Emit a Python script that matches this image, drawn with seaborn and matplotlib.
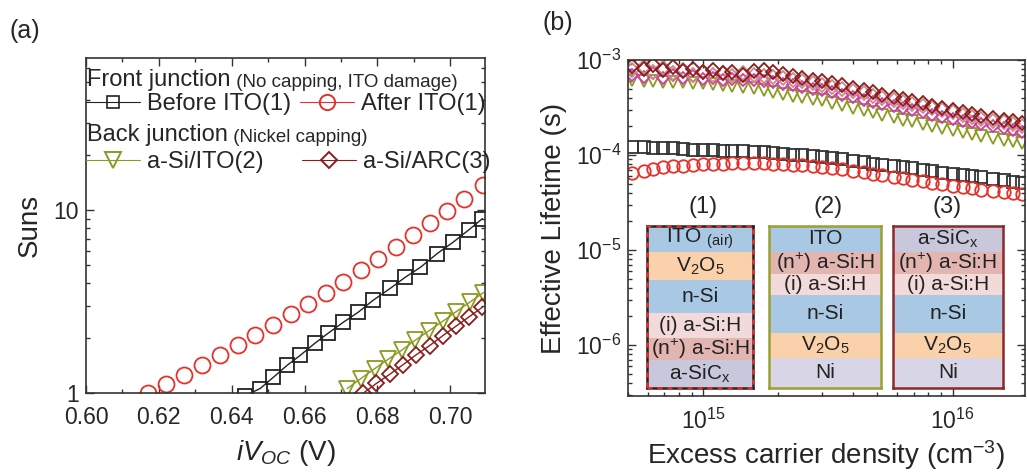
import numpy as np
import pandas as pd
import seaborn as sns
import matplotlib.pyplot as plt
from matplotlib.lines import Line2D
from matplotlib.patches import Rectangle
from matplotlib.ticker import LogLocator, MultipleLocator, NullFormatter

# ---- panel (a): Suns-Voc data ----
before_x = [0.6437, 0.6478, 0.6514, 0.6552, 0.6588, 0.6629, 0.6665, 0.6706, 0.6747,
            0.6788, 0.6835, 0.6876, 0.6918, 0.6964, 0.7008, 0.7050, 0.7088]
before_y = [0.97, 1.06, 1.22, 1.42, 1.61, 1.88, 2.13, 2.44, 2.77,
            3.22, 3.74, 4.30, 4.88, 5.80, 6.70, 7.80, 9.00]

after_x = [0.6170, 0.6220, 0.6268, 0.6318, 0.6367, 0.6416, 0.6465, 0.6513, 0.6562, 0.6610,
           0.6658, 0.6706, 0.6754, 0.6802, 0.6850, 0.6897, 0.6944, 0.6991, 0.7038, 0.7090]
after_y = [1.00, 1.12, 1.26, 1.42, 1.61, 1.83, 2.08, 2.36, 2.70, 3.09,
           3.54, 4.08, 4.70, 5.44, 6.31, 7.31, 8.50, 9.91, 11.6, 13.8]

ito2_x = [0.6717, 0.6754, 0.6792, 0.6829, 0.6867, 0.6904, 0.6941, 0.6979, 0.7016, 0.7054, 0.7091]
ito2_y = [1.06, 1.20, 1.36, 1.53, 1.72, 1.95, 2.19, 2.47, 2.79, 3.15, 3.55]

arc3_x = [0.6761, 0.6797, 0.6834, 0.6870, 0.6906, 0.6943, 0.6979, 0.7015, 0.7052, 0.7088]
arc3_y = [1.00, 1.13, 1.27, 1.43, 1.62, 1.82, 2.06, 2.32, 2.62, 2.95]

volt_ticks = [0.60, 0.62, 0.64, 0.66, 0.68, 0.70]
volt_labels = ["0.60", "0.62", "0.64", "0.66", "0.68", "0.70"]
suns_ticks = [1, 10]
suns_labels = ["1", "10"]

# ---- panel (b): lifetime data ----
dens = [5.2e14, 5.8e14, 6.3e14, 6.9e14, 7.6e14, 8.3e14, 9.1e14, 1.0e15, 1.1e15, 1.2e15,
        1.3e15, 1.45e15, 1.6e15, 1.75e15, 1.9e15, 2.1e15, 2.3e15, 2.5e15, 2.75e15, 3.0e15,
        3.3e15, 3.6e15, 4.0e15, 4.4e15, 4.8e15, 5.2e15, 5.8e15, 6.3e15, 6.9e15, 7.6e15,
        8.3e15, 9.1e15, 1.0e16, 1.1e16, 1.2e16, 1.3e16, 1.45e16, 1.6e16, 1.75e16, 1.9e16]
tau_before = [1.21, 1.20, 1.19, 1.18, 1.17, 1.16, 1.14, 1.13, 1.12, 1.11,
              1.10, 1.09, 1.08, 1.07, 1.05, 1.03, 1.01, 0.99, 0.97, 0.95,
              0.92, 0.90, 0.87, 0.84, 0.81, 0.79, 0.76, 0.74, 0.72, 0.69,
              0.67, 0.65, 0.63, 0.615, 0.60, 0.58, 0.56, 0.54, 0.52, 0.505]  # x1e-4
tau_after = [6.5, 6.8, 7.1, 7.4, 7.6, 7.7, 7.85, 7.95, 8.05, 8.1,
             8.15, 8.2, 8.2, 8.15, 8.1, 8.0, 7.9, 7.75, 7.6, 7.45,
             7.25, 7.05, 6.8, 6.6, 6.35, 6.15, 5.9, 5.75, 5.5, 5.3,
             5.1, 4.9, 4.75, 4.6, 4.45, 4.3, 4.15, 4.05, 3.95, 3.85]  # x1e-5
tau_ito2 = [6.1, 6.0, 5.95, 5.9, 5.85, 5.8, 5.75, 5.65, 5.55, 5.45,
            5.35, 5.2, 5.05, 4.85, 4.65, 4.4, 4.2, 4.05, 3.9, 3.75,
            3.55, 3.35, 3.15, 2.95, 2.8, 2.65, 2.5, 2.35, 2.25, 2.1,
            2.0, 1.9, 1.82, 1.75, 1.67, 1.6, 1.52, 1.45, 1.4, 1.35]  # x1e-4
tau_arc3 = [8.6, 8.0, 8.8, 7.9, 8.4, 7.6, 8.1, 7.4, 7.8, 7.2,
            7.5, 7.0, 7.6, 7.8, 7.4, 7.1, 6.8, 6.5, 6.2, 6.0,
            5.7, 5.4, 5.1, 4.8, 4.55, 4.3, 4.1, 3.9, 3.7, 3.5,
            3.3, 3.15, 3.0, 2.85, 2.7, 2.55, 2.45, 2.35, 2.25, 2.15]  # x1e-4
tau_arc3b = [7.8, 8.5, 7.4, 8.2, 7.3, 7.9, 7.0, 7.5, 6.9, 7.3,
             6.8, 7.2, 6.9, 6.8, 6.6, 6.4, 6.2, 5.95, 5.7, 5.45,
             5.2, 4.95, 4.7, 4.45, 4.2, 4.0, 3.8, 3.6, 3.4, 3.25,
             3.1, 2.95, 2.8, 2.65, 2.5, 2.4, 2.3, 2.2, 2.1, 2.0]  # x1e-4
tau_mag = [7.0, 6.6, 7.2, 6.5, 6.9, 6.4, 6.7, 6.3, 6.5, 6.2,
           6.3, 6.1, 6.1, 6.0, 5.8, 5.6, 5.4, 5.2, 5.0, 4.8,
           4.55, 4.3, 4.05, 3.8, 3.6, 3.4, 3.25, 3.1, 2.95, 2.8,
           2.65, 2.5, 2.4, 2.3, 2.2, 2.1, 2.0, 1.9, 1.82, 1.75]  # x1e-4

# ---- layer stacks drawn inside panel (b) ----
stack_titles = ["(1)", "(2)", "(3)"]
stack1 = ["ITO $_{(air)}$", "V$_2$O$_5$", "n-Si", "(i) a-Si:H", "(n$^{+}$) a-Si:H", "a-SiC$_x$"]
stack2 = ["ITO", "(n$^{+}$) a-Si:H", "(i) a-Si:H", "n-Si", "V$_2$O$_5$", "Ni"]
stack3 = ["a-SiC$_x$", "(n$^{+}$) a-Si:H", "(i) a-Si:H", "n-Si", "V$_2$O$_5$", "Ni"]
c_blue, c_orange, c_pink, c_rose, c_lav, c_ni = "#a9c8e4", "#fbd1ab", "#f3dada", "#e3b5b1", "#c9c7dc", "#d8d6e6"
stack1_colors = [c_blue, c_orange, c_blue, c_pink, c_rose, c_lav]
stack2_colors = [c_blue, c_rose, c_pink, c_blue, c_orange, c_ni]
stack3_colors = [c_lav, c_rose, c_pink, c_blue, c_orange, c_ni]

# ---- style ----
sns.set_theme(style="ticks")
plt.rcParams["font.family"] = ["Liberation Sans", "DejaVu Sans"]
plt.rcParams["mathtext.fontset"] = "custom"
plt.rcParams["mathtext.rm"] = "Liberation Sans"
plt.rcParams["mathtext.it"] = "Liberation Sans:italic"
plt.rcParams["mathtext.default"] = "regular"
plt.rcParams["axes.edgecolor"] = "#333333"
plt.rcParams["axes.linewidth"] = 1.2

RED, BLACK, OLIVE, DRED = "#e8302a", "#222222", "#8c9a22", "#8b1c1c"

fig = plt.figure(figsize=(10.27, 4.72), dpi=100)
ax_a = fig.add_axes([0.0837, 0.167, 0.3885, 0.710])
ax_b = fig.add_axes([0.6115, 0.161, 0.3865, 0.712])


def style_ticks(ax):
    ax.tick_params(which="both", direction="in", top=True, right=True, color="#333333", width=1)
    ax.tick_params(which="major", length=6, labelsize=16.5)
    ax.tick_params(axis="x", which="major", pad=9)
    ax.tick_params(axis="y", which="major", pad=5)
    ax.tick_params(which="minor", length=3)


def series(ax, x, y, color, marker, ms, ls="-"):
    sns.lineplot(x=x, y=y, ax=ax, color=color, marker=marker, ms=ms, mfc="none", mec=color,
                 mew=1.3, lw=1.0, ls=ls, estimator=None, sort=False, legend=False)


# panel (a)
ax_a.set_yscale("log")
series(ax_a, before_x, before_y, BLACK, "s", 10)
series(ax_a, after_x, after_y, RED, "o", 11.5, ls="none")
series(ax_a, ito2_x, ito2_y, OLIVE, "v", 11)
series(ax_a, arc3_x, arc3_y, DRED, "D", 8.5)
ax_a.set_xlim(0.60, 0.7095)
ax_a.set_ylim(1, 68)
ax_a.set_xticks(volt_ticks, labels=volt_labels)
ax_a.xaxis.set_minor_locator(MultipleLocator(0.01))
ax_a.set_yticks(suns_ticks, labels=suns_labels)
ax_a.yaxis.set_minor_locator(LogLocator(base=10, subs=np.arange(2, 10)))
ax_a.yaxis.set_minor_formatter(NullFormatter())
style_ticks(ax_a)
ax_a.set_xlabel("$\\mathit{iV_{OC}}$ (V)", fontsize=20, labelpad=7)
ax_a.set_ylabel("Suns", fontsize=20, labelpad=8)

t1 = ax_a.text(0.003, 0.934, "Front junction", transform=ax_a.transAxes, fontsize=17,
               ha="left", va="center")
ax_a.annotate(" (No capping, ITO damage)", xy=(1, 0), xycoords=t1, fontsize=13.5,
              ha="left", va="bottom")
t3 = ax_a.text(0.003, 0.770, "Back junction", transform=ax_a.transAxes, fontsize=17,
               ha="left", va="center")
ax_a.annotate(" (Nickel capping)", xy=(1, 0), xycoords=t3, fontsize=13.5,
              ha="left", va="bottom")

h_before = Line2D([], [], color=BLACK, marker="s", ms=9, mfc="none", mew=1.2, lw=0.8)
h_after = Line2D([], [], color=RED, marker="o", ms=11, mfc="none", mew=1.4, lw=0.8)
h_ito2 = Line2D([], [], color=OLIVE, marker="v", ms=11, mfc="none", mew=1.4, lw=0.8)
h_arc3 = Line2D([], [], color=DRED, marker="D", ms=8.5, mfc="none", mew=1.4, lw=0.8)
leg1 = ax_a.legend([h_before, h_after], ["Before ITO(1)", "After ITO(1)"], ncol=2,
                   loc="center left", bbox_to_anchor=(0.0, 0.862), frameon=False, fontsize=17,
                   handlelength=2.3, handletextpad=0.3, columnspacing=0.35,
                   borderpad=0, borderaxespad=0)
ax_a.add_artist(leg1)
ax_a.legend([h_ito2, h_arc3], ["a-Si/ITO(2)", "a-Si/ARC(3)"], ncol=2,
            loc="center left", bbox_to_anchor=(0.0, 0.690), frameon=False, fontsize=17,
            handlelength=2.3, handletextpad=0.3, columnspacing=1.6,
            borderpad=0, borderaxespad=0)

# panel (b)
ax_b.set_xscale("log")
ax_b.set_yscale("log")
series(ax_b, dens, np.array(tau_ito2) * 1e-4, OLIVE, "v", 8, ls="none")
series(ax_b, dens, np.array(tau_mag) * 1e-4, "#d63ca8", "D", 6, ls="none")
series(ax_b, dens, np.array(tau_arc3b) * 1e-4, "#c98a8a", "D", 7.5, ls="none")
series(ax_b, dens, np.array(tau_arc3) * 1e-4, DRED, "D", 7.5, ls="none")
series(ax_b, dens, np.array(tau_before) * 1e-4, "#333333", "s", 8, ls="none")
series(ax_b, dens, np.array(tau_after) * 1e-5, RED, "o", 9, ls="none")
ax_b.set_xlim(5e14, 1.95e16)
ax_b.set_ylim(2.9e-7, 1e-3)
ax_b.xaxis.set_major_locator(LogLocator(base=10))
ax_b.xaxis.set_minor_locator(LogLocator(base=10, subs=np.arange(2, 10)))
ax_b.xaxis.set_minor_formatter(NullFormatter())
ax_b.yaxis.set_major_locator(LogLocator(base=10))
ax_b.yaxis.set_minor_locator(LogLocator(base=10, subs=np.arange(2, 10)))
ax_b.yaxis.set_minor_formatter(NullFormatter())
style_ticks(ax_b)
ax_b.set_xlabel("Excess carrier density (cm$^{-3}$)", fontsize=20, labelpad=3)
ax_b.set_ylabel("Effective Lifetime (s)", fontsize=20, labelpad=6)


def layer_stack(ax, rect, names, colors, edge, dashed=False):
    ins = ax.inset_axes(rect)
    ins.set_xlim(0, 1)
    heights = [26, 28, 33, 25, 22, 28] if dashed else [26, 22, 21, 38, 25, 30]
    total = sum(heights)
    ins.set_ylim(total, 0)
    top = 0
    for name, col, h in zip(names, colors, heights):
        ins.axhspan(top, top + h, color=col, lw=0)
        ins.text(0.5, top + h / 2, name, ha="center", va="center", fontsize=15, color="#222222")
        top += h
    ins.set_xticks([])
    ins.set_yticks([])
    for s in ins.spines.values():
        s.set_color(edge)
        s.set_linewidth(1.8)
    if dashed:
        ins.add_patch(Rectangle((0, 0), 1, 1, transform=ins.transAxes, fill=False, ec="#e8302a",
                                lw=1.8, ls=(0, (2, 2)), clip_on=False, zorder=5))
    return ins


layer_stack(ax_b, [0.048, 0.024, 0.267, 0.482], stack1, stack1_colors, "#222222", dashed=True)
layer_stack(ax_b, [0.355, 0.024, 0.282, 0.482], stack2, stack2_colors, "#9aa032")
layer_stack(ax_b, [0.667, 0.024, 0.277, 0.482], stack3, stack3_colors, "#8b2a2a")
for xpos, title in zip([0.189, 0.504, 0.804], stack_titles):
    ax_b.text(xpos, 0.562, title, transform=ax_b.transAxes, ha="center", va="center", fontsize=17)

fig.text(0.0097, 0.935, "(a)", fontsize=18, ha="left", va="center")
fig.text(0.528, 0.952, "(b)", fontsize=18, ha="left", va="center")

fig.savefig("out.png", dpi=100)
